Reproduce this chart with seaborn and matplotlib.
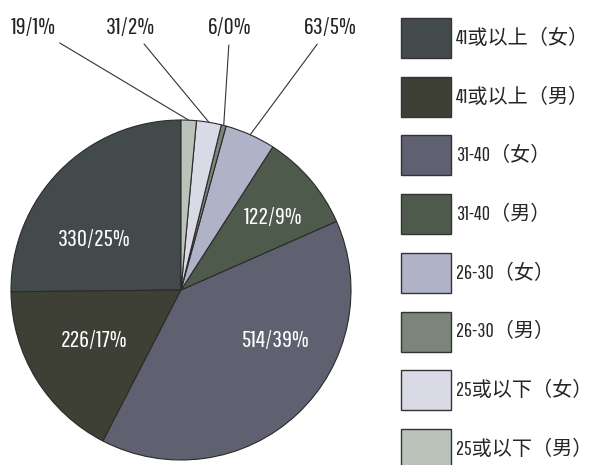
import numpy as np
import matplotlib
matplotlib.use("Agg")
import matplotlib.pyplot as plt
import seaborn as sns
from matplotlib.patches import Patch

# ---- data ----
categories = ["41或以上（女）", "41或以上（男）", "31-40（女）", "31-40（男）",
              "26-30（女）", "26-30（男）", "25或以下（女）", "25或以下（男）"]
counts = [330, 226, 514, 122, 63, 6, 31, 19]
colors = ["#434a4c", "#3e4036", "#5f6171", "#4e5a4b",
          "#b0b2c8", "#7b857a", "#d9dae6", "#b9c3ba"]

sns.set_theme(style="white")
plt.rcParams["font.family"] = ["Pathway Gothic One", "Noto Sans CJK SC", "DejaVu Sans"]

W, H = 595, 465
fig = plt.figure(figsize=(W / 100, H / 100), dpi=100)
fig.patch.set_facecolor("white")

cx, cy, R = 181, 290, 170
ax = fig.add_axes([(cx - R) / W, (H - cy - R) / H, 2 * R / W, 2 * R / H])

wedges, _ = ax.pie(counts, colors=colors, startangle=90, counterclock=True,
                   wedgeprops=dict(edgecolor="#2a2a2a", linewidth=0.8))
ax.set_xlim(-1, 1)
ax.set_ylim(-1, 1)
ax.set_aspect("equal")
ax.axis("off")

total = sum(counts)
labels = [f"{v}/{round(v / total * 100)}%" for v in counts]

# internal labels (layout positions, in pie radius units)
inner_pos = {0: (-0.51, 0.295), 1: (-0.51, -0.295), 2: (0.555, -0.295), 3: (0.54, 0.425)}
for i, (x, y) in inner_pos.items():
    ax.text(x, y, labels[i], color="white", fontsize=17.5, ha="center", va="center")

# external labels with leader lines
outer_text = {7: (-0.87, 1.547), 6: (-0.30, 1.547), 5: (0.288, 1.547), 4: (0.876, 1.547)}
for i, (tx, ty) in outer_text.items():
    w = wedges[i]
    ang = np.deg2rad((w.theta1 + w.theta2) / 2)
    ax.annotate(labels[i], xy=(np.cos(ang), np.sin(ang)), xytext=(tx, ty),
                fontsize=17.5, color="#222222", ha="center", va="center",
                annotation_clip=False,
                arrowprops=dict(arrowstyle="-", color="#333333", lw=0.8,
                                shrinkA=3, shrinkB=0))

# legend
fs = 14.5
fs_px = fs * 100 / 72
box_w, box_h, gap = 50, 40, 18.7
hh = (box_h / fs_px - 0.245) / 0.65
handles = [Patch(facecolor=c, edgecolor="#333333", linewidth=1.0) for c in colors]
fig.legend(handles, categories, loc="upper left",
           bbox_to_anchor=(401 / W, 1 - 18 / H), borderaxespad=0, borderpad=0,
           frameon=False, fontsize=fs, handlelength=box_w / fs_px, handleheight=hh,
           labelspacing=gap / fs_px, handletextpad=5 / fs_px)

fig.savefig("out.png", dpi=100, facecolor="white")
